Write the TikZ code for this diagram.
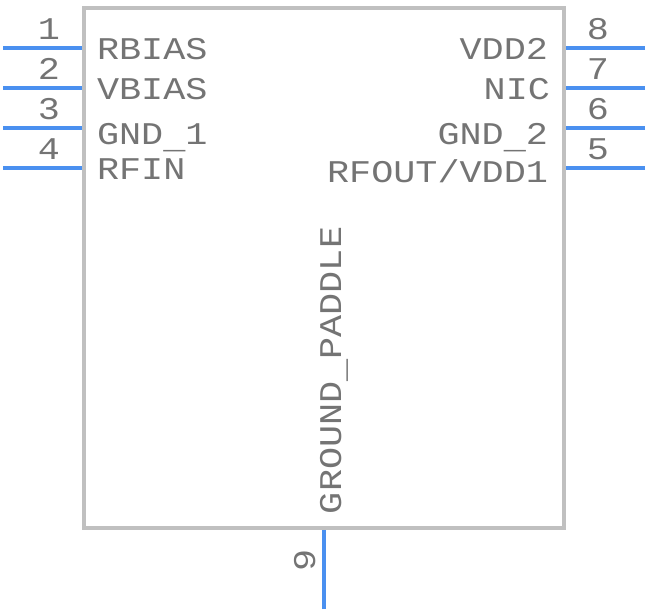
\documentclass[tikz,border=0pt]{standalone}
\usepackage{fontspec}
\setmainfont[FakeStretch=1.165]{Liberation Mono}
\definecolor{boxgray}{HTML}{C0C0C0}
\definecolor{pinblue}{HTML}{4A90F0}
\definecolor{txtgray}{HTML}{747474}
\newcommand{\lowbar}{\raisebox{-3.5pt}{\_}}
\tikzset{
  lbl/.style={inner sep=0pt,outer sep=0pt,text=txtgray,font=\fontsize{31.6}{36}\selectfont},
  lblL/.style={lbl,anchor=base west},
  lblR/.style={lbl,anchor=base east},
  num/.style={lbl,anchor=base},
  pinline/.style={draw=pinblue,line width=4pt},
  body/.style={draw=boxgray,line width=4pt}
}
\begin{document}
\begin{tikzpicture}[x=1pt,y=-1pt]
\useasboundingbox (0,0) rectangle (648,612);
\draw[body] (84.3,8.5) rectangle (563.7,528);
\coordinate (p1a) at (3,48);   \coordinate (p1b) at (82,48);
\coordinate (p2a) at (3,88);   \coordinate (p2b) at (82,88);
\coordinate (p3a) at (3,128);  \coordinate (p3b) at (82,128);
\coordinate (p4a) at (3,168);  \coordinate (p4b) at (82,168);
\coordinate (p8a) at (645,48); \coordinate (p8b) at (566,48);
\coordinate (p7a) at (645,88); \coordinate (p7b) at (566,88);
\coordinate (p6a) at (645,128);\coordinate (p6b) at (566,128);
\coordinate (p5a) at (645,168);\coordinate (p5b) at (566,168);
\coordinate (p9a) at (324,609);\coordinate (p9b) at (324,530);
\foreach \n in {1,...,9}{\draw[pinline] (p\n a) -- (p\n b);}
\node[num] (n1) at (49,40) {1};
\node[num] (n2) at (49,80) {2};
\node[num] (n3) at (49,120) {3};
\node[num] (n4) at (49,160) {4};
\node[num] (n8) at (598,40) {8};
\node[num] (n7) at (598,80) {7};
\node[num] (n6) at (598,120) {6};
\node[num] (n5) at (598,160) {5};
\node[num,rotate=90] (n9) at (315,560) {9};
\node[lblL] (rbias) at (97,60) {RBIAS};
\node[lblL] (vbias) at (97,100) {VBIAS};
\node[lblL] (gnd1) at (97,145) {GND\lowbar 1};
\node[lblL] (rfin) at (97,180) {RFIN};
\node[lblR] (vdd2) at (548,60) {VDD2};
\node[lblR] (nic) at (550,100) {NIC};
\node[lblR] (gnd2) at (548,145) {GND\lowbar 2};
\node[lblR] (rfout) at (548,183) {RFOUT/VDD1};
\node[lbl,rotate=90,anchor=base west] (gp) at (341,514) {GROUND\lowbar PADDLE};
\end{tikzpicture}
\end{document}
